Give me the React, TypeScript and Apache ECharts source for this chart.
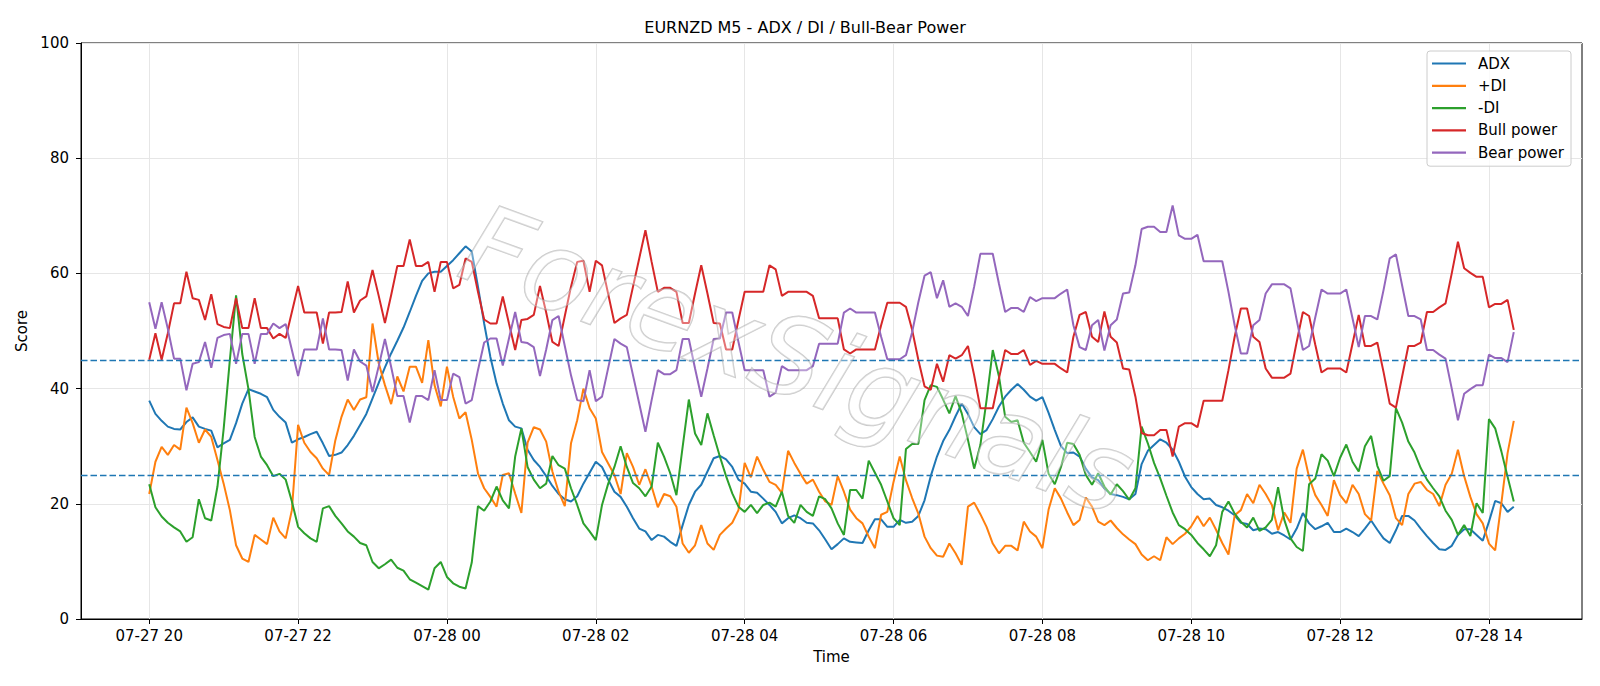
import { useEffect, useRef } from 'react';
import * as echarts from 'echarts';

// 5-minute bars starting 07-27 20:00
const START_DAY = 27;
const START_HOUR = 20;
const STEP_MIN = 5;

const adx = [
  37.9, 35.6, 34.4, 33.4, 33.0, 32.9, 34.2, 35.0, 33.4, 33.0,
  32.7, 29.8, 30.5, 31.1, 34.0, 37.4, 39.9, 39.5, 39.1, 38.5,
  36.3, 35.1, 34.1, 30.6, 31.2, 31.6, 32.1, 32.5, 30.5, 28.3,
  28.5, 28.9, 30.2, 31.8, 33.7, 35.6, 38.3, 41.0, 43.7, 46.1,
  48.3, 50.6, 53.3, 56.1, 58.7, 60.0, 60.3, 60.3, 61.3, 62.3,
  63.5, 64.7, 63.8, 57.7, 51.3, 45.5, 40.9, 37.4, 34.5, 33.4,
  33.1, 29.4, 27.6, 26.4, 24.8, 23.1, 21.7, 20.8, 20.4, 21.3,
  23.5, 25.4, 27.3, 26.4, 24.2, 22.1, 21.2, 19.5, 17.5, 15.7,
  15.2, 13.7, 14.6, 14.3, 13.4, 12.7, 16.3, 19.8, 22.1, 23.3,
  25.6, 27.9, 28.3, 27.7, 26.4, 24.2, 23.5, 22.1, 21.9, 20.9,
  19.8, 18.6, 16.6, 17.5, 18.0, 17.5, 16.7, 16.6, 15.4, 13.8,
  12.1, 13.0, 14.0, 13.4, 13.3, 13.2, 15.4, 17.3, 17.3, 16.0,
  16.0, 17.2, 16.7, 16.9, 17.9, 20.6, 24.8, 28.2, 30.9, 32.8,
  35.2, 37.4, 35.6, 33.3, 32.1, 32.8, 34.7, 36.9, 38.6, 39.8,
  40.8, 39.8, 38.6, 37.9, 38.5, 35.8, 32.8, 30.0, 28.8, 28.9,
  28.2, 26.1, 24.6, 24.1, 22.7, 21.7, 21.5, 21.2, 20.8, 21.7,
  26.9, 29.2, 30.2, 31.2, 30.6, 29.4, 27.3, 24.7, 22.9, 21.7,
  20.8, 20.9, 19.8, 19.4, 18.8, 18.0, 16.7, 16.5, 15.4, 15.7,
  15.6, 14.8, 15.1, 14.5, 13.8, 15.7, 18.4, 16.6, 15.6, 16.1,
  16.7, 15.1, 15.1, 15.7, 15.1, 14.4, 15.7, 17.1, 15.5, 14.0,
  13.2, 15.4, 17.9, 17.9, 17.1, 15.7, 14.4, 13.2, 12.1, 12.0,
  12.7, 14.6, 15.6, 15.6, 14.6, 13.6, 16.9, 20.5, 20.1, 18.6,
  19.5,
];

const plusDI = [
  21.7, 27.3, 29.9, 28.5, 30.2, 29.4, 36.7, 34.0, 30.6, 32.9,
  31.6, 27.6, 23.5, 18.9, 12.8, 10.5, 9.9, 14.6, 13.8, 13.0,
  17.6, 15.2, 14.0, 18.9, 33.7, 30.6, 29.0, 27.9, 26.1, 25.0,
  31.0, 35.1, 38.1, 36.3, 38.1, 38.5, 51.3, 44.4, 40.6, 37.3,
  42.1, 39.5, 43.8, 43.8, 41.0, 48.4, 40.6, 36.9, 43.8, 38.6,
  34.8, 35.9, 31.1, 25.3, 22.7, 21.2, 19.5, 25.0, 25.3, 21.8,
  18.4, 30.6, 33.3, 32.9, 30.8, 25.6, 22.1, 19.6, 30.5, 34.5,
  40.0, 36.6, 34.8, 29.0, 27.0, 25.0, 21.7, 28.8, 26.4, 23.3,
  26.0, 23.0, 19.4, 21.7, 21.3, 19.5, 13.1, 11.5, 12.8, 16.3,
  13.1, 12.0, 14.6, 15.7, 16.7, 18.9, 27.1, 24.6, 28.2, 25.9,
  23.8, 23.3, 21.9, 29.2, 27.1, 25.2, 23.5, 24.2, 22.1, 20.4,
  19.8, 24.8, 22.1, 19.0, 17.5, 16.6, 14.3, 12.3, 18.1, 18.6,
  23.8, 28.2, 24.1, 21.0, 18.3, 14.3, 12.3, 11.0, 10.8, 13.1,
  11.4, 9.4, 19.5, 20.2, 18.2, 16.0, 13.1, 11.4, 12.7, 12.7,
  11.9, 16.9, 15.2, 14.3, 12.3, 19.0, 22.7, 20.9, 18.5, 16.3,
  17.2, 21.1, 19.5, 16.9, 16.3, 17.1, 15.8, 14.7, 13.8, 13.0,
  11.2, 10.2, 10.9, 10.2, 14.2, 13.0, 14.0, 14.8, 16.1, 17.9,
  16.1, 17.6, 15.5, 13.2, 11.2, 18.0, 18.9, 21.7, 20.1, 23.3,
  21.7, 19.8, 15.4, 18.5, 16.7, 26.1, 29.4, 24.6, 21.5, 19.8,
  17.9, 24.1, 21.5, 20.1, 23.3, 21.7, 18.2, 17.1, 25.7, 23.5,
  21.5, 17.5, 16.3, 21.7, 23.5, 23.8, 22.4, 21.7, 19.6, 23.3,
  25.2, 29.4, 24.8, 21.2, 18.2, 16.6, 13.1, 11.9, 20.1, 28.8,
  34.4,
];

const minusDI = [
  23.4, 19.4, 17.8, 16.7, 15.9, 15.2, 13.4, 14.2, 20.8, 17.5,
  17.1, 23.0, 33.0, 45.0, 56.2, 46.0, 39.9, 31.6, 28.2, 26.7,
  24.8, 25.2, 24.2, 20.4, 16.0, 14.9, 14.0, 13.4, 19.2, 19.6,
  17.9, 16.6, 15.2, 14.3, 13.2, 12.8, 9.9, 8.8, 9.5, 10.3,
  8.9, 8.4, 6.9, 6.3, 5.7, 5.1, 8.8, 9.9, 7.3, 6.2,
  5.6, 5.3, 9.8, 19.6, 18.8, 20.4, 23.0, 20.6, 19.2, 28.2,
  33.1, 26.4, 24.2, 22.7, 23.5, 28.3, 26.7, 26.1, 22.7, 19.8,
  16.6, 15.2, 13.7, 19.8, 23.5, 26.4, 30.0, 26.4, 23.6, 22.7,
  21.3, 23.0, 30.6, 28.2, 25.3, 21.5, 29.9, 38.1, 32.2, 30.2,
  35.7, 31.9, 28.2, 24.8, 21.8, 19.5, 18.6, 19.8, 18.4, 19.8,
  20.2, 19.5, 22.1, 17.9, 16.7, 19.8, 18.6, 17.9, 21.3, 20.8,
  19.2, 16.6, 14.6, 22.4, 22.4, 20.9, 27.5, 25.4, 23.3, 20.4,
  17.5, 16.3, 29.5, 30.4, 30.4, 38.0, 40.6, 40.3, 38.1, 35.7,
  38.7, 35.7, 31.1, 26.1, 30.2, 38.0, 46.7, 42.1, 35.1, 34.2,
  34.5, 30.6, 29.0, 27.3, 31.1, 25.2, 23.4, 26.4, 30.6, 30.4,
  28.5, 25.0, 23.3, 25.3, 23.0, 21.6, 23.4, 22.2, 20.7, 22.7,
  33.4, 30.5, 27.1, 24.4, 21.4, 18.5, 16.3, 15.6, 14.6, 13.2,
  12.1, 10.9, 12.8, 18.6, 20.4, 18.3, 16.9, 15.9, 17.6, 15.3,
  15.9, 17.2, 22.9, 17.2, 14.0, 12.5, 11.8, 23.4, 24.4, 28.6,
  27.5, 24.8, 28.0, 30.3, 27.3, 25.6, 30.0, 31.8, 26.6, 24.0,
  24.8, 36.6, 34.1, 30.8, 28.9, 26.2, 24.2, 22.7, 21.3, 18.8,
  17.2, 14.6, 16.3, 14.4, 20.1, 18.4, 34.7, 33.1, 29.1, 24.7,
  20.4,
];

const bullPower = [
  45.0, 49.6, 45.0, 49.6, 54.8, 54.8, 60.3, 55.7, 55.4, 51.9,
  56.4, 51.2, 50.7, 50.5, 55.7, 50.5, 50.5, 55.7, 50.5, 50.5,
  48.7, 49.5, 48.8, 53.3, 57.8, 53.2, 53.2, 53.2, 47.8, 53.2,
  53.2, 53.3, 58.6, 53.2, 55.3, 56.0, 60.6, 56.1, 51.4, 56.2,
  61.3, 61.3, 65.9, 61.3, 61.3, 62.0, 56.8, 62.0, 62.0, 57.4,
  58.0, 62.6, 62.0, 56.8, 52.0, 51.3, 51.3, 56.0, 51.3, 46.7,
  51.9, 52.1, 52.8, 57.8, 53.2, 48.1, 47.4, 52.6, 57.7, 62.0,
  62.2, 56.8, 62.2, 61.4, 56.4, 51.4, 52.2, 52.8, 57.7, 62.6,
  67.5, 62.0, 56.8, 57.5, 57.5, 56.8, 51.4, 51.4, 56.5, 61.4,
  56.5, 51.4, 51.3, 46.8, 46.8, 51.9, 56.8, 56.8, 56.8, 56.8,
  61.4, 60.7, 56.1, 56.8, 56.8, 56.8, 56.8, 56.1, 52.2, 52.2,
  52.2, 52.2, 46.8, 46.1, 46.8, 46.8, 46.8, 46.8, 51.0, 54.9,
  54.9, 54.9, 54.2, 50.2, 45.0, 40.4, 39.8, 44.3, 41.2, 45.8,
  45.2, 45.8, 47.4, 42.3, 36.6, 36.6, 36.6, 41.8, 46.7, 46.0,
  46.0, 46.7, 44.1, 44.8, 44.3, 44.3, 44.3, 43.5, 42.8, 49.0,
  52.8, 53.3, 49.0, 48.1, 53.4, 49.0, 48.0, 43.5, 43.3, 38.6,
  32.3, 31.9, 31.9, 32.8, 32.8, 28.2, 33.4, 34.0, 34.0, 33.3,
  37.9, 37.9, 37.9, 37.9, 43.2, 49.0, 53.9, 53.9, 49.0, 48.1,
  43.5, 41.9, 41.9, 41.9, 42.6, 48.1, 53.3, 52.6, 47.6, 42.8,
  43.5, 43.5, 43.5, 42.8, 47.8, 52.8, 47.4, 47.4, 48.0, 42.9,
  37.4, 36.7, 42.1, 47.4, 47.4, 48.0, 53.3, 53.3, 54.1, 54.8,
  60.0, 65.5, 60.9, 60.1, 59.4, 59.4, 54.1, 54.7, 54.7, 55.4,
  50.2,
];

const bearPower = [
  55.0, 50.4, 55.0, 50.4, 45.2, 45.2, 39.7, 44.3, 44.6, 48.1,
  43.6, 48.8, 49.3, 49.5, 44.3, 49.5, 49.5, 44.3, 49.5, 49.5,
  51.3, 50.5, 51.2, 46.7, 42.2, 46.8, 46.8, 46.8, 52.2, 46.8,
  46.8, 46.7, 41.4, 46.8, 44.7, 44.0, 39.4, 43.9, 48.6, 43.8,
  38.7, 38.7, 34.1, 38.7, 38.7, 38.0, 43.2, 38.0, 38.0, 42.6,
  42.0, 37.4, 38.0, 43.2, 48.0, 48.7, 48.7, 44.0, 48.7, 53.3,
  48.1, 47.9, 47.2, 42.2, 46.8, 51.9, 52.6, 47.4, 42.3, 38.0,
  37.8, 43.2, 37.8, 38.6, 43.6, 48.6, 47.8, 47.2, 42.3, 37.4,
  32.5, 38.0, 43.2, 42.5, 42.5, 43.2, 48.6, 48.6, 43.5, 38.6,
  43.5, 48.6, 48.7, 53.2, 53.2, 48.1, 43.2, 43.2, 43.2, 43.2,
  38.6, 39.3, 43.9, 43.2, 43.2, 43.2, 43.2, 43.9, 47.8, 47.8,
  47.8, 47.8, 53.2, 53.9, 53.2, 53.2, 53.2, 53.2, 49.0, 45.1,
  45.1, 45.1, 45.8, 49.8, 55.0, 59.6, 60.2, 55.7, 58.8, 54.2,
  54.8, 54.2, 52.6, 57.7, 63.4, 63.4, 63.4, 58.2, 53.3, 54.0,
  54.0, 53.3, 55.9, 55.2, 55.7, 55.7, 55.7, 56.5, 57.2, 51.0,
  47.2, 46.7, 51.0, 51.9, 46.6, 51.0, 52.0, 56.5, 56.7, 61.4,
  67.7, 68.1, 68.1, 67.2, 67.2, 71.8, 66.6, 66.0, 66.0, 66.7,
  62.1, 62.1, 62.1, 62.1, 56.8, 51.0, 46.1, 46.1, 51.0, 51.9,
  56.5, 58.1, 58.1, 58.1, 57.4, 51.9, 46.7, 47.4, 52.4, 57.2,
  56.5, 56.5, 56.5, 57.2, 52.2, 47.2, 52.6, 52.6, 52.0, 57.1,
  62.6, 63.3, 57.9, 52.6, 52.6, 52.0, 46.7, 46.7, 45.9, 45.2,
  40.0, 34.5, 39.1, 39.9, 40.6, 40.6, 45.9, 45.3, 45.3, 44.6,
  49.8,
];

// x ticks every 2 hours, in minutes from start
const xTickMinutes = [0, 120, 240, 360, 480, 600, 720, 840, 960, 1080];
const upperLevel = 45;
const lowerLevel = 25;

const FONT = '"DejaVu Sans", sans-serif';

function timeLabel(m: number): string {
  const total = START_HOUR * 60 + m;
  const day = START_DAY + Math.floor(total / 1440);
  const hour = Math.floor((total % 1440) / 60);
  return `07-${String(day).padStart(2, '0')} ${String(hour).padStart(2, '0')}`;
}

export default function App() {
  const ref = useRef<HTMLDivElement>(null);

  useEffect(() => {
    document.body.style.margin = '0';
    const chart = echarts.init(ref.current as HTMLDivElement, null, { renderer: 'svg' });
    const toPairs = (arr: number[]) => arr.map((v, i) => [i * STEP_MIN, v]);
    const lastMin = (adx.length - 1) * STEP_MIN;
    const pad = lastMin * 0.05;

    const mkSeries = (name: string, data: number[], color: string, extra: any = {}) => ({
      name,
      type: 'line',
      data: toPairs(data),
      showSymbol: false,
      symbol: 'none',
      color,
      lineStyle: { color, width: 2 },
      ...extra,
    });

    const option: any = {
      animation: false,
      backgroundColor: '#ffffff',
      title: {
        text: 'EURNZD M5 - ADX / DI / Bull-Bear Power',
        left: 800,
        textAlign: 'center',
        top: 14,
        textStyle: { fontFamily: FONT, fontSize: 16, fontWeight: 'normal', color: '#000' },
      },
      grid: {
        left: 81,
        top: 43,
        right: 18,
        bottom: 67,
        show: true,
        borderColor: '#000',
        borderWidth: 1,
        containLabel: false,
      },
      legend: {
        orient: 'vertical',
        left: 1427,
        top: 51,
        icon: 'rect',
        itemWidth: 34,
        itemHeight: 2.2,
        itemGap: 5.3,
        padding: [4, 7, 5, 5],
        borderColor: '#cccccc',
        borderWidth: 1,
        borderRadius: 3,
        backgroundColor: 'rgba(255,255,255,0.8)',
        textStyle: { fontFamily: FONT, fontSize: 15, color: '#000', lineHeight: 17, padding: [0, 0, 0, 7] },
        data: ['ADX', '+DI', '-DI', 'Bull power', 'Bear power'],
      },
      xAxis: {
        type: 'value',
        min: -pad,
        max: lastMin + pad,
        name: 'Time',
        nameLocation: 'middle',
        nameGap: 30,
        nameTextStyle: { fontFamily: FONT, fontSize: 15, color: '#000' },
        axisLine: { show: true, onZero: false, lineStyle: { color: '#000', width: 1 } },
        axisTick: { show: true, length: 5, lineStyle: { color: '#000', width: 1 }, customValues: xTickMinutes },
        axisLabel: {
          customValues: xTickMinutes,
          formatter: (v: number) => timeLabel(v),
          fontFamily: FONT,
          fontSize: 15,
          color: '#000',
          margin: 9,
        },
        splitLine: { show: true, lineStyle: { color: '#e6e6e6', width: 1 } },
      },
      yAxis: {
        type: 'value',
        min: 0,
        max: 100,
        interval: 20,
        name: 'Score',
        nameLocation: 'middle',
        nameGap: 45,
        nameTextStyle: { fontFamily: FONT, fontSize: 15, color: '#000' },
        axisLine: { show: true, onZero: false, lineStyle: { color: '#000', width: 1 } },
        axisTick: { show: true, length: 5, lineStyle: { color: '#000', width: 1 } },
        axisLabel: { fontFamily: FONT, fontSize: 15, color: '#000', margin: 12 },
        splitLine: { show: true, lineStyle: { color: '#e6e6e6', width: 1 } },
      },
      graphic: [
        {
          type: 'text',
          x: 798,
          y: 360,
          rotation: -0.35,
          z: 100,
          silent: true,
          style: {
            text: 'ForexSignals',
            fontFamily: FONT,
            fontStyle: 'italic',
            fontSize: 110,
            fill: 'rgba(255,255,255,0.35)',
            stroke: 'rgba(150,150,150,0.5)',
            lineWidth: 1.5,
            align: 'center',
            verticalAlign: 'middle',
          },
        },
      ],
      series: [
        mkSeries('ADX', adx, '#1f77b4'),
        mkSeries('+DI', plusDI, '#ff7f0e'),
        mkSeries('-DI', minusDI, '#2ca02c'),
        mkSeries('Bull power', bullPower, '#d62728'),
        mkSeries('Bear power', bearPower, '#9467bd', {
          markLine: {
            silent: true,
            symbol: ['none', 'none'],
            label: { show: false },
            lineStyle: { color: '#1f77b4', width: 1.4, type: [6.5, 3] },
            data: [{ yAxis: upperLevel }, { yAxis: lowerLevel }],
          },
        }),
      ],
    };

    chart.setOption(option);
    return () => chart.dispose();
  }, []);

  return <div ref={ref} style={{ width: 1600, height: 686 }} />;
}
